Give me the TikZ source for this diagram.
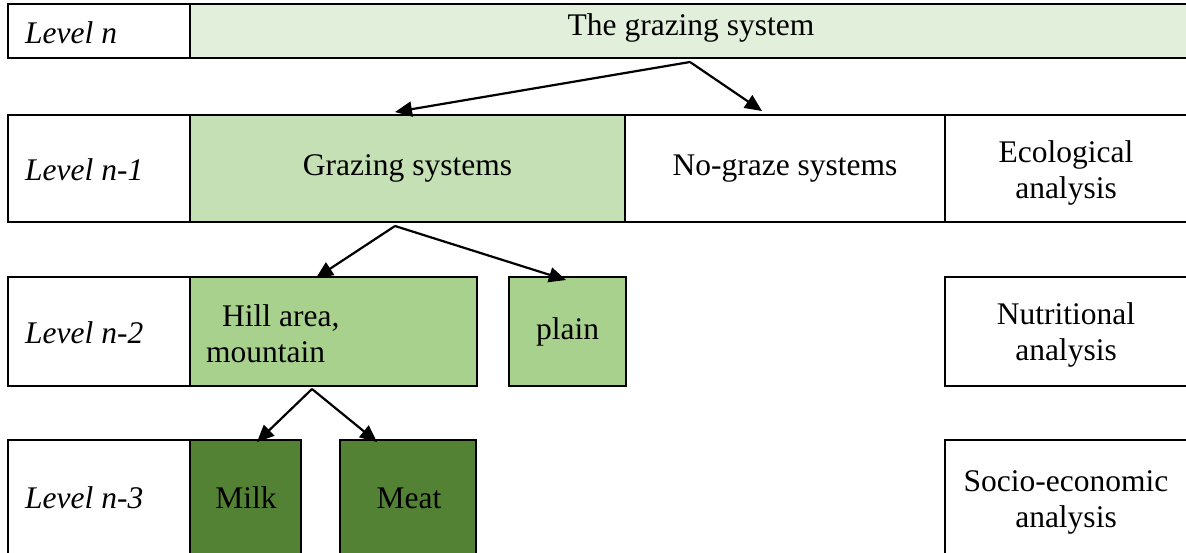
\documentclass[tikz,border=0pt]{standalone}
\usepackage{fontspec}
\setmainfont{Liberation Serif}
\usetikzlibrary{arrows.meta,calc}
\definecolor{gA}{HTML}{E2EFDA}
\definecolor{gB}{HTML}{C5E0B4}
\definecolor{gC}{HTML}{A9D18E}
\definecolor{gD}{HTML}{548235}
\tikzset{
  cell/.style={draw=black, line width=1.2pt, inner sep=0pt, outer sep=0pt, anchor=north west, align=center, font=\fontsize{31.5}{37}\selectfont},
  lvl/.style={inner sep=0pt, anchor=base west, font=\fontsize{31.5}{37}\selectfont\itshape},
  txt/.style={inner sep=0pt, font=\fontsize{31.5}{36}\selectfont},
  arr/.style={line width=2.2pt, -{Triangle[length=17pt,width=15pt]}},
}
\begin{document}
\begin{tikzpicture}[x=1pt,y=-1pt]
\useasboundingbox (0,0) rectangle (1186,552);
\clip (0,0) rectangle (1186,552);
\fill[white] (0,0) rectangle (1186,552);
% row 0
\node[cell, minimum width=182pt, minimum height=54pt] (L0) at (8,4) {};
\node[cell, fill=gA, minimum width=1002pt, minimum height=54pt] (T0) at (190,4) {};
\node[txt] (T0t) at (691,28) {The grazing system};
% row 1
\node[cell, minimum width=182pt, minimum height=107pt] (L1) at (8,115) {};
\node[cell, fill=gB, minimum width=435pt, minimum height=107pt] (G1) at (190,115) {Grazing systems};
\node[cell, minimum width=320pt, minimum height=107pt] (N1) at (625,115) {No-graze systems};
\node[cell, minimum width=247pt, minimum height=107pt] (E1) at (945,115) {};
\node[txt, align=center] (E1t) at (1066,173) {Ecological\\analysis};
% row 2
\node[cell, minimum width=182pt, minimum height=109pt] (L2) at (8,277) {};
\node[cell, fill=gC, minimum width=287pt, minimum height=109pt] (H2) at (190,277) {};
\node[txt, align=left, anchor=west] (H2t) at (206,334) {\hspace*{16pt}Hill area,\\mountain};
\node[cell, fill=gC, minimum width=117pt, minimum height=109pt] (P2) at (509,277) {plain};
\node[cell, minimum width=247pt, minimum height=109pt] (R2) at (945,277) {};
\node[txt, align=center] (R2t) at (1066,335) {Nutritional\\analysis};
% row 3
\node[cell, minimum width=182pt, minimum height=130pt] (L3) at (8,440) {};
\node[cell, fill=gD, minimum width=111pt, minimum height=130pt] (M3) at (190,440) {};
\node[txt] (M3t) at (246,498) {Milk};
\node[cell, fill=gD, minimum width=136pt, minimum height=130pt] (Me3) at (340,440) {};
\node[txt] (Me3t) at (409,498) {Meat};
\node[cell, minimum width=247pt, minimum height=130pt] (S3) at (945,440) {};
\node[txt, align=center] (S3t) at (1066,502) {Socio-economic\\analysis};
% level labels
\node[lvl] (l0) at (25,43) {Level n};
\node[lvl] (l1) at (25,180) {Level n-1};
\node[lvl] (l2) at (25,343) {Level n-2};
\node[lvl] (l3) at (25,508) {Level n-3};
% arrow end points
\coordinate (a0) at (690,62);
\coordinate (a1) at (395,112);
\coordinate (a2) at (762,111);
\coordinate (b0) at (395,226);
\coordinate (b1) at (316,278);
\coordinate (b2) at (566,280);
\coordinate (c0) at (312,389);
\coordinate (c1) at (257,442);
\coordinate (c2) at (377,442);
\draw[arr] (a0) -- (a1);
\draw[arr] (a0) -- (a2);
\draw[arr] (b0) -- (b1);
\draw[arr] (b0) -- (b2);
\draw[arr] (c0) -- (c1);
\draw[arr] (c0) -- (c2);
\end{tikzpicture}
\end{document}
